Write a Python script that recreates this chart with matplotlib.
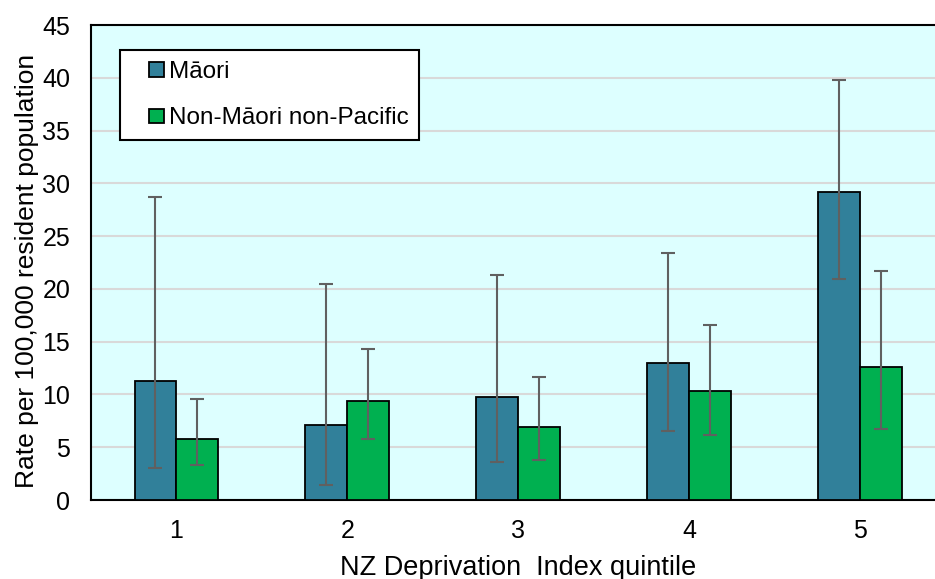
import numpy as np
from matplotlib import pyplot as plt
from matplotlib.patches import Rectangle
from matplotlib.container import BarContainer
from matplotlib.legend_handler import HandlerPatch, update_from_first_child

plt.rcParams['font.family'] = ['Liberation Sans', 'DejaVu Sans']

quintiles = ['1', '2', '3', '4', '5']
maori = [11.3, 7.1, 9.8, 13.0, 29.2]
maori_lo = [3.0, 1.45, 3.6, 6.5, 20.9]
maori_hi = [28.7, 20.5, 21.3, 23.4, 39.8]
nmnp = [5.8, 9.4, 6.9, 10.3, 12.6]
nmnp_lo = [3.3, 5.8, 3.8, 6.2, 6.7]
nmnp_hi = [9.6, 14.3, 11.65, 16.55, 21.7]

fig = plt.figure(figsize=(9.35, 5.79), dpi=100)
ax = fig.add_axes([0.0973, 0.1364, 0.914, 0.8204])
ax.set_facecolor('#DDFFFF')

x = np.arange(len(quintiles))
w = 0.245
err_kw = dict(ecolor='#606060', elinewidth=1.5, capsize=5, capthick=1.5)

ax.bar(x - w / 2, maori, w, color='#31809A', edgecolor='black', linewidth=1.3,
       yerr=[np.array(maori) - np.array(maori_lo), np.array(maori_hi) - np.array(maori)],
       error_kw=err_kw, label='Māori', zorder=3)
ax.bar(x + w / 2, nmnp, w, color='#00B050', edgecolor='black', linewidth=1.3,
       yerr=[np.array(nmnp) - np.array(nmnp_lo), np.array(nmnp_hi) - np.array(nmnp)],
       error_kw=err_kw, label='Non-Māori non-Pacific', zorder=3)

ax.set_xlim(-0.5, 4.5)
ax.set_ylim(0, 45)
ax.set_yticks(range(0, 46, 5))
ax.set_xticks(x)
ax.set_xticklabels(quintiles)
ax.tick_params(length=0, labelsize=18, pad=14)
ax.tick_params(axis='y', pad=15)
ax.yaxis.grid(True, color='#D9D9D9', linewidth=1.5, zorder=0)
ax.set_axisbelow(True)
for s in ['left', 'top', 'bottom']:
    ax.spines[s].set_linewidth(1.5)
ax.spines['right'].set_visible(False)

ax.set_xlabel('NZ Deprivation  Index quintile', fontsize=19.5, labelpad=8)
ax.set_ylabel('Rate per 100,000 resident population', fontsize=19)
ax.yaxis.set_label_coords(-0.061, 0.482)


# small square marker at right end of the handle box
def small_square(legend, orig_handle, xdescent, ydescent, width, height, fontsize):
    s = 10.5
    return Rectangle((-xdescent + width - s, -ydescent + (height - s) / 2), s, s)


leg = ax.legend(loc='upper left', bbox_to_anchor=(0.034, 0.947), fontsize=17.5,
                fancybox=False, edgecolor='black', framealpha=1,
                handlelength=1.35, handleheight=0.7, handletextpad=0.2,
                labelspacing=1.0, borderpad=0.45, borderaxespad=0,
                handler_map={BarContainer: HandlerPatch(patch_func=small_square,
                                                        update_func=update_from_first_child)})
leg.get_frame().set_linewidth(1.5)

fig.savefig('out.png', dpi=100)
